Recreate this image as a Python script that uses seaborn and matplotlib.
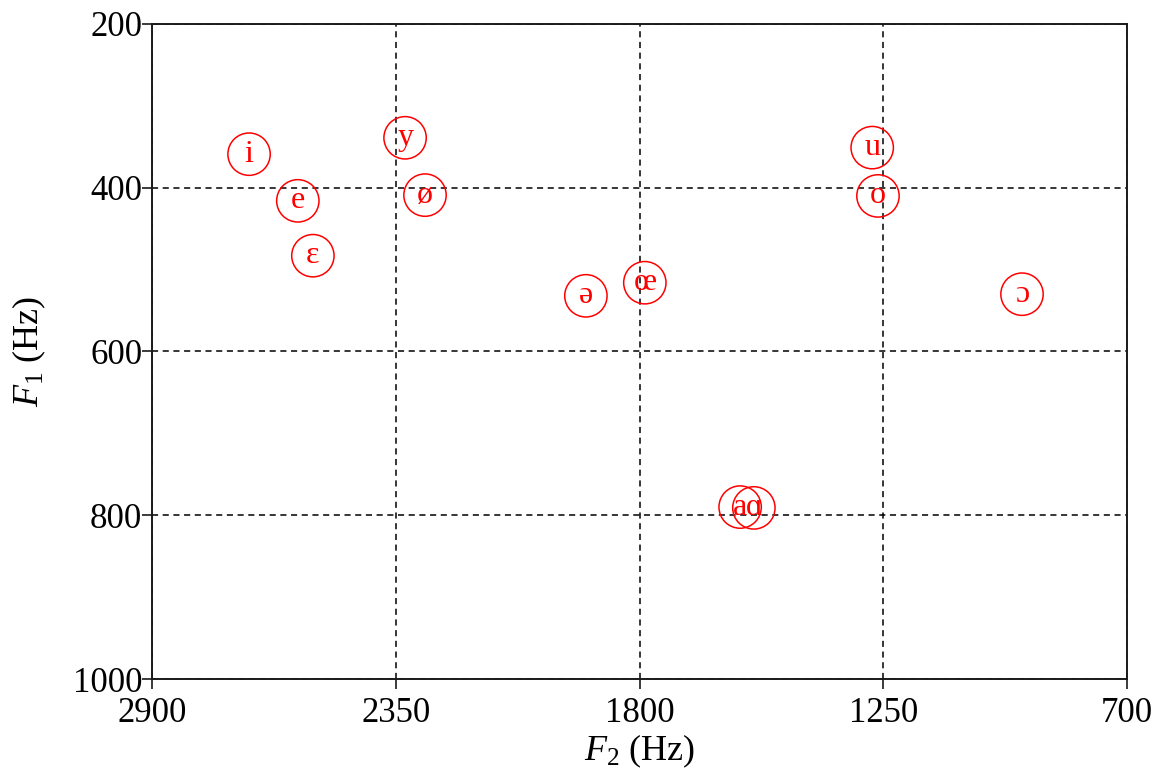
import matplotlib
matplotlib.use("Agg")
import matplotlib.pyplot as plt
import pandas as pd
import seaborn as sns

# vowel formants (Hz)
vowels = ["i", "e", "ɛ", "y", "ø", "ə", "œ", "a", "ɑ", "u", "o", "ɔ"]
f2 = [2681, 2571, 2537, 2329, 2284, 1921, 1788, 1573, 1542, 1275, 1262, 937]
f1 = [359, 416, 483, 339, 409, 532, 516, 790, 791, 351, 410, 530]

x_ticks = [2900, 2350, 1800, 1250, 700]
y_ticks = [200, 400, 600, 800, 1000]

sns.set_style("white")
plt.rcParams["font.family"] = ["Liberation Serif", "DejaVu Serif"]
plt.rcParams["mathtext.fontset"] = "custom"
plt.rcParams["mathtext.rm"] = "Liberation Serif"
plt.rcParams["mathtext.it"] = "Liberation Serif:italic"

df = pd.DataFrame({"vowel": vowels, "F2": f2, "F1": f1})

fig = plt.figure(figsize=(11.55, 7.71), dpi=100)
ax = fig.add_axes([0.1316, 0.1193, 0.8442, 0.8496])

sns.scatterplot(data=df, x="F2", y="F1", ax=ax, marker="o", s=930,
                facecolor="none", edgecolor="red", linewidth=1.1, zorder=3)
for _, row in df.iterrows():
    ax.text(row["F2"], row["F1"], row["vowel"], color="red", fontsize=23,
            ha="center", va="center", zorder=4,
            family=["Liberation Serif", "DejaVu Serif"])

ax.set_xlim(2900, 700)
ax.set_ylim(1000, 200)
ax.set_xticks(x_ticks)
ax.set_yticks(y_ticks)
ax.grid(True, color="black", linestyle=(0, (4, 3)), linewidth=1.1)
ax.set_axisbelow(True)

for sp in ax.spines.values():
    sp.set_color("#1a1a1a")
    sp.set_linewidth(1.4)
ax.tick_params(axis="both", direction="out", length=7, width=1.2,
               color="#1a1a1a", labelcolor="black", labelsize=25,
               bottom=True, left=True, top=False, right=False)
ax.tick_params(axis="x", pad=6)
ax.tick_params(axis="y", pad=0)

ax.set_xlabel(r"$F_2$ (Hz)", fontsize=26, labelpad=2, color="black")
ax.set_ylabel(r"$F_1$ (Hz)", fontsize=26, labelpad=18, color="black")

fig.savefig("out.png", dpi=100)
